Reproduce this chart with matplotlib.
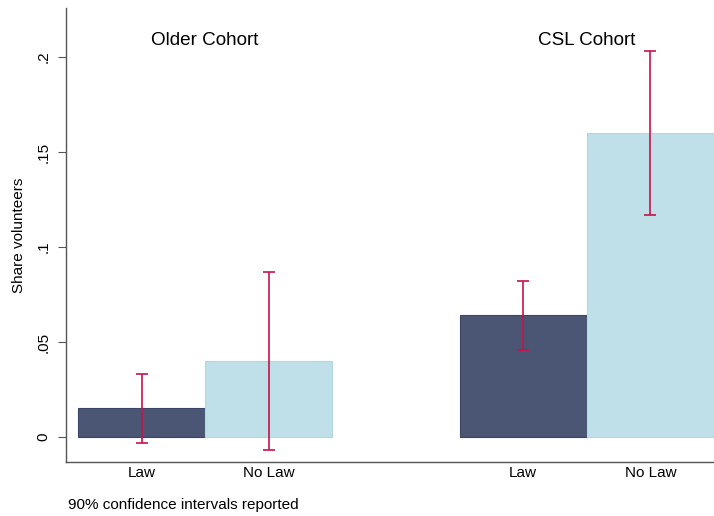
import matplotlib
matplotlib.use("Agg")
import matplotlib.pyplot as plt

plt.rcParams['font.family'] = ['Liberation Sans', 'DejaVu Sans']

# data
cohorts = ["Older Cohort", "CSL Cohort"]
groups = ["Law", "No Law"]
share = [[0.015, 0.040], [0.064, 0.160]]
ci_low = [[-0.003, -0.007], [0.046, 0.117]]
ci_high = [[0.033, 0.087], [0.082, 0.203]]
yticks = [0, 0.05, 0.1, 0.15, 0.2]
ytick_labels = ["0", ".05", ".1", ".15", ".2"]

colors = ["#4b5674", "#bfdfe9"]
edges = ["#3b4666", "#b2d6e2"]
err_col = "#c8124a"

fig = plt.figure(figsize=(7.14, 5.16), dpi=100)
ax = fig.add_axes([66/714, 54/516, 1 - 66/714, (462 - 8)/516])

xpos = []
xlabs = []
for c in range(len(cohorts)):
    for g in range(len(groups)):
        x = c * 3 + g + 0.5
        ax.bar(x, share[c][g], width=1.0, color=colors[g], edgecolor=edges[g], linewidth=0.8, zorder=2)
        lo = share[c][g] - ci_low[c][g]
        hi = ci_high[c][g] - share[c][g]
        ax.errorbar(x, share[c][g], yerr=[[lo], [hi]], fmt="none", ecolor=err_col,
                    elinewidth=1.2, capsize=4, capthick=1.2, zorder=3)
        xpos.append(x)
        xlabs.append(groups[g])
    ax.text(c * 3 + 1.0, 0.2085, cohorts[c], ha="center", va="center", fontsize=13.6)

ax.set_xlim(-0.094, 5.0)
ax.set_ylim(-0.0132, 0.2258)
ax.set_yticks(yticks)
ax.set_yticklabels(ytick_labels, rotation=90, va="center", fontsize=11)
ax.set_xticks(xpos)
ax.set_xticklabels(xlabs, fontsize=11)
ax.tick_params(axis="x", length=0, pad=3)
ax.tick_params(axis="y", length=6, width=0.8, color="#555555", pad=5)
ax.set_ylabel("Share volunteers", fontsize=11)
ax.yaxis.set_label_coords(-0.062, 0.5)

for s in ["top", "right"]:
    ax.spines[s].set_visible(False)
for s in ["left", "bottom"]:
    ax.spines[s].set_color("#555555")
    ax.spines[s].set_linewidth(1.0)

fig.text(68/714, 1 - 505/516, "90% confidence intervals reported", fontsize=11, va="center")

fig.savefig("out.png", dpi=100)
